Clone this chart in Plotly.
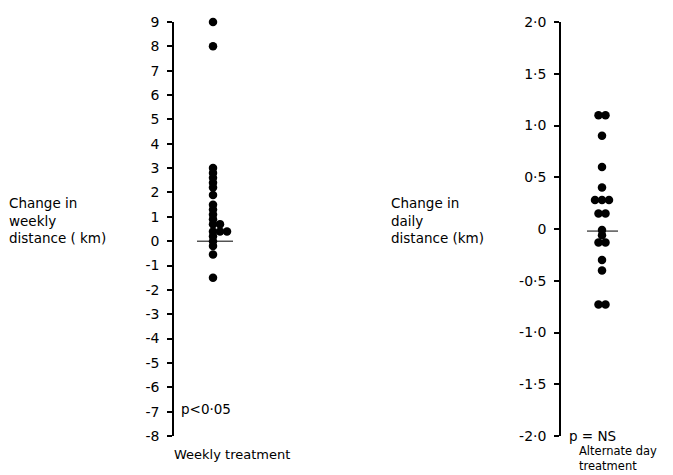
import plotly.graph_objects as go
from collections import Counter

# ---- data ----
weekly_change = [9.0, 8.0, 3.0, 2.8, 2.6, 2.4, 2.2, 1.9, 1.5, 1.3, 1.1, 0.9,
                 0.7, 0.7, 0.4, 0.4, 0.4, 0.2, 0.0, -0.2, -0.55, -1.5]
daily_change = [1.1, 1.1, 0.9, 0.6, 0.4, 0.28, 0.28, 0.28, 0.15, 0.15,
                -0.01, -0.06, -0.13, -0.13, -0.3, -0.4, -0.73, -0.73]
weekly_line = 0.0
daily_line = -0.02

weekly_ticks = list(range(9, -9, -1))
weekly_ticktext = [str(v) for v in weekly_ticks]
daily_ticks = [2.0, 1.5, 1.0, 0.5, 0.0, -0.5, -1.0, -1.5, -2.0]
daily_ticktext = ["2·0", "1·5", "1·0", "0·5", "0", "-0·5", "-1·0", "-1·5", "-2·0"]

weekly_p = "p<0·05"
daily_p = "p = NS"
weekly_label = "Weekly treatment"
daily_label = "Alternate day<br>treatment"
weekly_ytitle = "Change in<br>weekly<br>distance ( km)"
daily_ytitle = "Change in<br>daily<br>distance (km)"

W, H = 673, 475
FONT = "DejaVu Sans"
SPACING = 7  # horizontal spacing of tied dots (x units = px)
PAGE_OFF = 8  # the page body margin shifts the figure by 8px


def swarm(values, mode):
    counts = Counter(values)
    seen = Counter()
    xs = []
    for v in values:
        n = counts[v]
        i = seen[v]
        seen[v] += 1
        if mode == "right":
            xs.append(i * SPACING)
        else:
            xs.append((i - (n - 1) / 2) * SPACING)
    return xs


def px(x):
    return (x - PAGE_OFF) / W


def py(y):
    return 1 - (y - PAGE_OFF) / H


fig = go.Figure()

fig.add_trace(go.Scatter(x=swarm(weekly_change, "right"), y=weekly_change, mode="markers",
                         marker=dict(color="black", size=8.5), xaxis="x", yaxis="y",
                         showlegend=False, hoverinfo="y", cliponaxis=False))
fig.add_trace(go.Scatter(x=[-16, 20], y=[weekly_line, weekly_line], mode="lines",
                         line=dict(color="black", width=1), xaxis="x", yaxis="y",
                         showlegend=False, cliponaxis=False))
fig.add_trace(go.Scatter(x=swarm(daily_change, "center"), y=daily_change, mode="markers",
                         marker=dict(color="black", size=8.5), xaxis="x2", yaxis="y2",
                         showlegend=False, hoverinfo="y", cliponaxis=False))
fig.add_trace(go.Scatter(x=[-15, 16], y=[daily_line, daily_line], mode="lines",
                         line=dict(color="black", width=1), xaxis="x2", yaxis="y2",
                         showlegend=False, cliponaxis=False))

ydom = [py(436), py(22)]
axis_common = dict(showline=True, linecolor="black", linewidth=1.5, ticks="outside",
                   ticklen=5, tickwidth=1.5, tickcolor="black", showgrid=False,
                   zeroline=False, tickfont=dict(family=FONT, size=14, color="black"),
                   tickmode="array", domain=ydom, ticklabelstandoff=5, automargin=False)

fig.update_layout(
    width=W, height=H,
    margin=dict(l=0, r=0, t=0, b=0, pad=0, autoexpand=False),
    paper_bgcolor="white", plot_bgcolor="white",
    font=dict(family=FONT, size=13, color="black"),
    xaxis=dict(domain=[px(174), px(254)], range=[-39, 41], visible=False, automargin=False),
    yaxis=dict(range=[-8, 9], tickvals=weekly_ticks, ticktext=weekly_ticktext,
               anchor="x", **axis_common),
    xaxis2=dict(domain=[px(561), px(641)], range=[-41, 39], visible=False, automargin=False),
    yaxis2=dict(range=[-2, 2], tickvals=daily_ticks, ticktext=daily_ticktext,
                anchor="x2", **axis_common),
)


def add_text(text, x, y, size):
    fig.add_annotation(x=px(x), y=py(y), text=text, xanchor="left",
                       yanchor="middle", align="left", showarrow=False,
                       xref="paper", yref="paper", borderpad=0,
                       font=dict(family=FONT, size=size, color="black"))


add_text(weekly_ytitle, 8, 220, 13.5)
add_text(daily_ytitle, 390, 220, 13.5)
add_text(weekly_p, 180, 409, 13.5)
add_text(daily_p, 568, 436, 13.5)
add_text(weekly_label, 173, 454, 13)
add_text(daily_label, 578, 458, 11.5)

fig.write_html("out.html")
